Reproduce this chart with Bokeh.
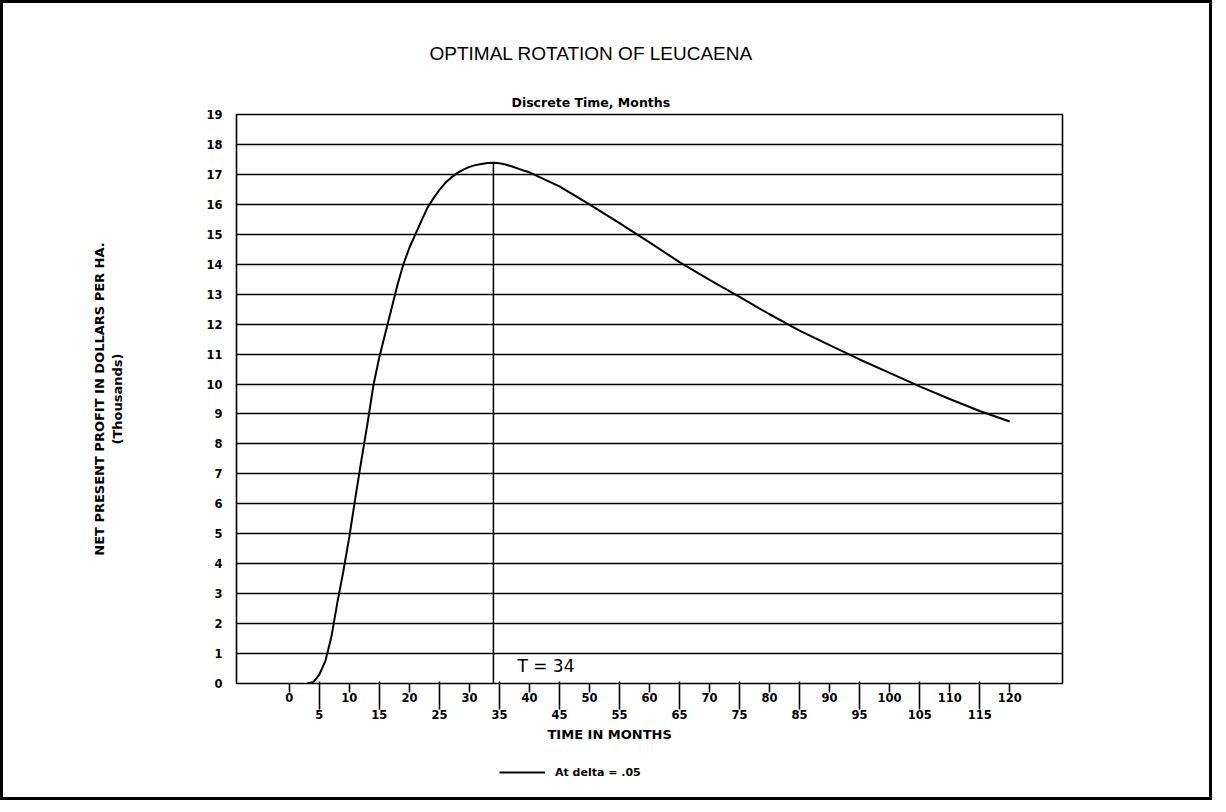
from bokeh.plotting import figure
from bokeh.layouts import column
from bokeh.models import FixedTicker, LinearAxis, Range1d, Title, Legend, LegendItem, Grid
from bokeh.embed import file_html
from bokeh.resources import INLINE
from bokeh.core.properties import value

# ---- data ----
months = [3, 4, 5, 6, 7, 8, 9, 10, 11, 12, 13, 14, 15, 16, 17, 18, 19, 20, 21, 22,
          23, 24, 25, 26, 27, 28, 29, 30, 31, 32, 33, 34, 35, 36, 37, 38, 39, 40,
          45, 50, 55, 60, 65, 70, 75, 80, 85, 90, 95, 100, 105, 110, 115, 120]
npv = [0.0, 0.05, 0.3, 0.75, 1.55, 2.7, 3.75, 4.9, 6.2, 7.45, 8.65, 9.95, 10.9, 11.7,
       12.5, 13.3, 14.0, 14.55, 15.0, 15.45, 15.88, 16.2, 16.48, 16.72, 16.9, 17.05,
       17.16, 17.25, 17.31, 17.35, 17.38, 17.39, 17.37, 17.33, 17.27, 17.2, 17.13, 17.07,
       16.6, 16.0, 15.37, 14.73, 14.07, 13.48, 12.91, 12.33, 11.78, 11.3, 10.82, 10.37,
       9.92, 9.5, 9.1, 8.75]
T_OPT = 34
y_ticks = list(range(0, 20))
x_ticks_upper = list(range(0, 121, 10))
x_ticks_lower = list(range(5, 120, 10))

title_text = "OPTIMAL ROTATION OF LEUCAENA"
subtitle_text = "Discrete Time, Months"
x_label = "TIME IN MONTHS"
y_label = "NET PRESENT PROFIT IN DOLLARS PER HA.\n(Thousands)"
legend_label = "At delta = .05"

p = figure(frame_width=826, frame_height=569, output_backend="svg", toolbar_location=None,
           x_range=Range1d(-8.8, 128.8), y_range=Range1d(0, 19),
           x_axis_type=None, y_axis_type=None, title=None,
           min_border_left=233, min_border_right=147, min_border_top=111,
           min_border_bottom=66)
p.background_fill_color = "white"
p.border_fill_color = "white"
p.outline_line_color = "black"
p.outline_line_width = 1.6

# titles
p.add_layout(Title(text=subtitle_text, align="left", offset=275, standoff=10,
                   text_font="DejaVu Sans", text_font_style="bold",
                   text_font_size="12.5px", text_color="black"), "above")
p.add_layout(Title(text=title_text, align="left", offset=193, standoff=48,
                   text_font="Liberation Sans", text_font_style="normal",
                   text_font_size="19px", text_color="black"), "above")

# y axis
yaxis = LinearAxis(ticker=FixedTicker(ticks=y_ticks), major_tick_out=0, major_tick_in=0,
                   minor_tick_out=0, minor_tick_in=0, axis_line_color=None,
                   major_label_standoff=14, major_label_text_font="DejaVu Sans",
                   major_label_text_font_style="bold", major_label_text_font_size="11.5px",
                   major_label_text_color="black",
                   axis_label=y_label, axis_label_standoff=78,
                   axis_label_text_font="DejaVu Sans", axis_label_text_font_style="bold",
                   axis_label_text_font_size="13px", axis_label_text_color="black")
p.add_layout(yaxis, "left")

# x axis: upper row (short ticks, multiples of ten)
xaxis1 = LinearAxis(ticker=FixedTicker(ticks=x_ticks_upper),
                    major_tick_out=9, major_tick_in=0, minor_tick_out=0, minor_tick_in=0,
                    major_tick_line_width=1.6, major_tick_line_color="black",
                    axis_line_color=None, major_label_standoff=0,
                    major_label_text_font="DejaVu Sans", major_label_text_font_style="bold",
                    major_label_text_font_size="11.5px", major_label_text_color="black")
p.add_layout(xaxis1, "below")
# x axis: lower row (long ticks reaching up to the frame)
xaxis2 = LinearAxis(ticker=FixedTicker(ticks=x_ticks_lower), major_tick_out=5, major_tick_in=23,
                    minor_tick_out=0, minor_tick_in=0, axis_line_color=None,
                    major_tick_line_width=1.6, major_tick_line_color="black",
                    major_label_standoff=0,
                    major_label_text_font="DejaVu Sans", major_label_text_font_style="bold",
                    major_label_text_font_size="11.5px", major_label_text_color="black")
p.add_layout(xaxis2, "below")

# x axis title (placed as a panel title so it can sit where the original has it)
p.add_layout(Title(text=x_label, align="left", offset=311, standoff=7,
                   text_font="DejaVu Sans", text_font_style="bold",
                   text_font_size="13px", text_color="black"), "below")

# grid
p.add_layout(Grid(dimension=1, ticker=FixedTicker(ticks=y_ticks), grid_line_color="black",
                  grid_line_width=1.6, grid_line_alpha=1.0))

# curve
curve = p.line(months, npv, line_color="black", line_width=2)
peak = npv[months.index(T_OPT)]
p.segment(x0=[T_OPT], y0=[0], x1=[T_OPT], y1=[peak], line_color="black", line_width=1.5)
p.text(x=[T_OPT], y=[0.6], text=[f"T = {T_OPT}"], x_offset=24,
       text_baseline="middle", text_align="left",
       text_font=value("DejaVu Sans"), text_font_size="17px", text_color="black")

# legend strip beneath the chart
p2 = figure(width=1206, height=48, output_backend="svg", toolbar_location=None,
            x_range=Range1d(0, 1), y_range=Range1d(0, 1),
            x_axis_type=None, y_axis_type=None, title=None, min_border=0)
p2.xgrid.visible = False
p2.ygrid.visible = False
p2.outline_line_color = None
p2.background_fill_color = "white"
p2.border_fill_color = "white"
# one-point line (draws nothing itself) that only supplies the legend sample's style
legend_line = p2.line(x=months[:1], y=npv[:1], line_color="black", line_width=2)
legend = Legend(items=[LegendItem(label=legend_label, renderers=[legend_line])],
                location=(263, 15), padding=0, margin=0, spacing=0,
                glyph_width=46, glyph_height=20, label_standoff=10, label_height=20,
                label_text_font="DejaVu Sans", label_text_font_style="bold",
                label_text_font_size="11px", label_text_color="black",
                border_line_color=None, background_fill_alpha=0)
p2.add_layout(legend, "center")

layout = column(p, p2, spacing=0)
layout.styles = {"border": "3px solid black"}

open("out.html", "w").write(file_html(layout, INLINE))
